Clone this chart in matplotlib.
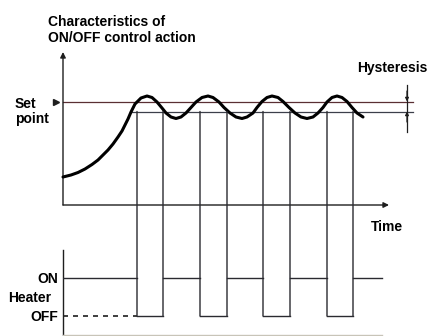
import matplotlib
matplotlib.use("Agg")
import matplotlib.pyplot as plt
from matplotlib.patches import ConnectionPatch

plt.rcParams['font.family'] = ['Liberation Sans', 'DejaVu Sans']

# temperature response (time, temperature)
time = [0, 0.8, 1.5, 2.2, 2.9, 3.5, 4.0, 4.5, 5.0, 5.5, 5.9, 6.2, 6.5, 6.8, 7.2, 7.8, 8.4,
        8.9, 9.4, 9.9, 10.3, 10.8, 11.3,
        11.8, 12.3, 12.8, 13.3, 13.9, 14.5,
        15.0, 15.6, 16.1, 16.7, 17.3, 17.9,
        18.4, 19.0, 19.4, 19.9, 20.4, 20.9,
        21.5, 22.0, 22.6, 23.2, 23.8, 24.4,
        25.0, 25.5, 26.0, 26.4, 26.9, 27.4,
        27.9, 28.4, 28.9, 29.4, 30.0]
temp = [28, 30, 32.5, 36, 40.5, 45, 50, 55, 61, 68, 74, 80, 86, 93, 101, 107, 109,
        107.5, 103, 97, 92, 88, 86.5,
        88, 92, 97.5, 103, 107.5, 109,
        107.5, 103, 97.5, 92, 88, 86.5,
        88, 92, 97.5, 103.5, 107.5, 109,
        107.5, 103.5, 97.5, 92, 88, 86.5,
        88, 92, 97.5, 103, 107.5, 109,
        107.5, 103.5, 97.5, 92, 88]

set_point = 103.5
lower_limit = 93.5
lower_start = 6.8

# heater switching
switch_times = [7.4, 10.0, 13.7, 16.4, 20.0, 22.7, 26.4, 29.0]
heater_edges = [0, 7.4, 10.0, 13.7, 16.4, 20.0, 22.7, 26.4, 29.0, 31.9]
heater_state = [1, 0, 1, 0, 1, 0, 1, 0, 1]

dark = '#1e1e1e'
fig = plt.figure(figsize=(4.3, 3.36), dpi=100)
ax = fig.add_axes([63 / 430, 131 / 336, 350 / 430, 155 / 336])
axb = fig.add_axes([63 / 430, 0, 350 / 430, 86 / 336])
for a in (ax, axb):
    a.axis('off')
    a.set_xlim(0, 35)
ax.set_ylim(0, 155)
axb.set_ylim(-0.526, 1.737)

# axes with arrows
ax.annotate('', xy=(0, 153), xytext=(0, 0),
            arrowprops=dict(arrowstyle='-|>', color=dark, lw=1.0, mutation_scale=8,
                            shrinkA=0, shrinkB=0))
ax.annotate('', xy=(32.6, 0), xytext=(0, 0),
            arrowprops=dict(arrowstyle='-|>', color=dark, lw=1.0, mutation_scale=8,
                            shrinkA=0, shrinkB=0))

# set point and hysteresis band
ax.plot([0, 35], [set_point, set_point], color='#5a2f33', lw=0.9, clip_on=False)
ax.plot([lower_start, 35], [lower_limit, lower_limit], color='#3c3f4a', lw=0.9, clip_on=False)
ax.plot([-0.75], [set_point], marker='>', color=dark, ms=5, clip_on=False)
ax.plot([34.4, 34.4], [73, 120], color=dark, lw=0.9, clip_on=False)
ax.annotate('', xy=(34.4, set_point), xytext=(34.4, 114),
            arrowprops=dict(arrowstyle='-|>', color=dark, lw=0.9, mutation_scale=5,
                            shrinkA=0, shrinkB=0), annotation_clip=False)
ax.annotate('', xy=(34.4, lower_limit), xytext=(34.4, 83),
            arrowprops=dict(arrowstyle='-|>', color=dark, lw=0.9, mutation_scale=5,
                            shrinkA=0, shrinkB=0), annotation_clip=False)

# response curve
ax.plot(time, temp, color='black', lw=2.2, solid_joinstyle='round', solid_capstyle='round',
        clip_on=False, zorder=5)

# heater diagram
axb.plot([0, 0], [-0.526, 1.737], color=dark, lw=1.0, clip_on=False)
axb.plot([0, 31.9], [-0.5, -0.5], color='#c8c4b8', lw=1.0)
axb.plot([0, switch_times[0]], [0, 0], color=dark, lw=1.2, ls=(0, (3, 3)))
for i, s in enumerate(heater_state):
    axb.plot([heater_edges[i], heater_edges[i + 1]], [s, s], color='#2a2a30', lw=1.0)
for t in switch_times:
    con = ConnectionPatch(xyA=(t, lower_limit), coordsA=ax.transData,
                          xyB=(t, 0), coordsB=axb.transData,
                          color='#2a2a30', lw=1.0)
    fig.add_artist(con)

# labels
tkw = dict(fontsize=10, fontweight='bold', color='black', va='baseline')
ax.text(-1.5, 179, 'Characteristics of', **tkw)
ax.text(-1.5, 163, 'ON/OFF control action', **tkw)
ax.text(29.4, 133, 'Hysteresis', **tkw)
ax.text(-4.8, 97, 'Set', **tkw)
ax.text(-4.8, 81.5, 'point', **tkw)
ax.text(30.8, -26, 'Time', **tkw)
axb.text(-0.5, 0.87, 'ON', ha='right', **tkw)
axb.text(-5.5, 0.37, 'Heater', ha='left', **tkw)
axb.text(-0.5, -0.13, 'OFF', ha='right', **tkw)

fig.savefig('out.png', dpi=100)
